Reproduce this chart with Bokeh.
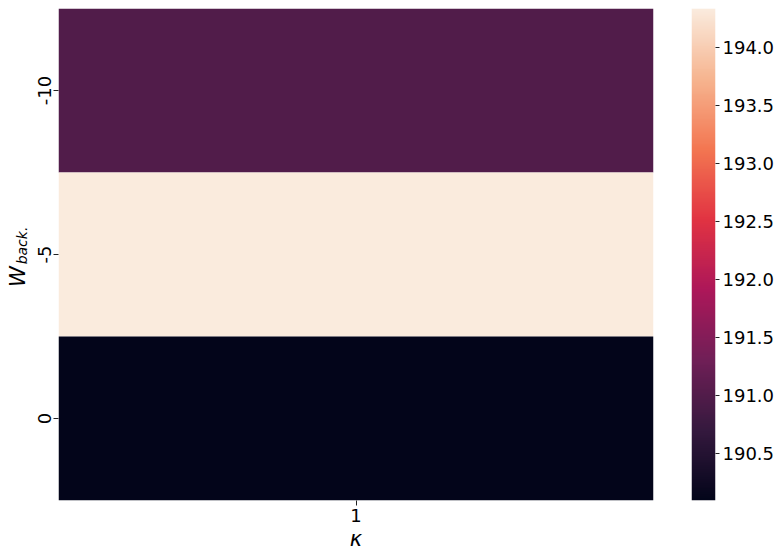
import math
import numpy as np
from bokeh.plotting import figure
from bokeh.layouts import row
from bokeh.models import (LinearColorMapper, FixedTicker, ColumnDataSource,
                          Range1d, PrintfTickFormatter)
from bokeh.core.properties import value
from bokeh.embed import file_html
from bokeh.resources import INLINE

# ---- data ----
kappa_labels = ["1"]
w_back_labels = ["-10", "-5", "0"]
cell_values = [191.0, 194.34, 190.09]
cbar_ticks = [190.5, 191.0, 191.5, 192.0, 192.5, 193.0, 193.5, 194.0]

# ---- rocket-like palette ----
anchors = [
    (0.0, (3, 5, 26)),
    (1/7, (0x35, 0x19, 0x3e)),
    (2/7, (0x70, 0x1f, 0x57)),
    (3/7, (0xad, 0x17, 0x59)),
    (4/7, (0xe1, 0x33, 0x42)),
    (5/7, (0xf3, 0x76, 0x51)),
    (6/7, (0xf6, 0xb4, 0x8f)),
    (1.0, (0xfa, 0xeb, 0xdd)),
]
palette = []
for i in range(256):
    t = i / 255
    for (t0, c0), (t1, c1) in zip(anchors[:-1], anchors[1:]):
        if t0 <= t <= t1:
            f = (t - t0) / (t1 - t0)
            c = tuple(int(round(a + (b - a) * f)) for a, b in zip(c0, c1))
            palette.append("#%02x%02x%02x" % c)
            break

FONT = "DejaVu Sans"
FS = "18px"
H = 559
FRAME_H = 492
TOP, BOTTOM = 8, 59

vmin, vmax = min(cell_values), max(cell_values)
mapper = LinearColorMapper(palette=palette, low=vmin, high=vmax)

def style_axis(ax):
    ax.axis_line_color = None
    ax.minor_tick_line_color = None
    ax.major_tick_in = 0
    ax.major_tick_line_color = "#222222"
    ax.major_label_text_font = FONT
    ax.major_label_text_font_size = FS
    ax.major_label_text_color = "#000000"

n_rows = len(w_back_labels)
y_range = Range1d(0, n_rows)

# ---- y-label panel (frame spans same vertical extent as heatmap) ----
LAB_W = 32
lab = figure(frame_width=LAB_W, frame_height=FRAME_H,
             x_range=Range1d(0, LAB_W), y_range=y_range,
             output_backend="svg", toolbar_location=None,
             x_axis_type=None, y_axis_type=None,
             min_border_left=0, min_border_right=0,
             min_border_top=TOP, min_border_bottom=BOTTOM)
lab.outline_line_color = None
lab.grid.visible = False
ppu = FRAME_H / n_rows  # pixels per row unit
def to_y(py):
    return (TOP + FRAME_H - py) / ppu
lab.text(x=[17], y=[to_y(276)], text=["W"], angle=math.pi / 2,
         text_font=value(FONT), text_font_style="italic", text_font_size="21px",
         text_align="center", text_baseline="middle", text_color="#000000")
lab.text(x=[21.5], y=[to_y(245)], text=["back."], angle=math.pi / 2,
         text_font=value(FONT), text_font_style="italic", text_font_size="14px",
         text_align="center", text_baseline="middle", text_color="#000000")

# ---- heatmap ----
ys = [n_rows - 1 - i + 0.5 for i in range(n_rows)]
xs = [0.5] * n_rows
src = ColumnDataSource(dict(x=xs, y=ys, v=cell_values))

p = figure(frame_width=595, frame_height=FRAME_H,
           x_range=Range1d(0, len(kappa_labels)), y_range=y_range,
           output_backend="svg", toolbar_location=None,
           min_border_left=58 - LAB_W, min_border_top=TOP, min_border_bottom=BOTTOM,
           min_border_right=38)
p.outline_line_color = None
p.grid.visible = False

p.rect(x="x", y="y", width=1, height=1, source=src,
       fill_color={"field": "v", "transform": mapper}, line_color=None)

p.xaxis.ticker = FixedTicker(ticks=[0.5])
p.xaxis.major_label_overrides = {0.5: kappa_labels[0]}
p.yaxis.ticker = FixedTicker(ticks=ys)
p.yaxis.major_label_overrides = {y: l for y, l in zip(ys, w_back_labels)}
p.yaxis.major_label_orientation = "vertical"
for ax in (p.xaxis[0], p.yaxis[0]):
    style_axis(ax)
    ax.major_tick_out = 5
    ax.major_label_standoff = 3

p.xaxis.axis_label = "\u03ba"
p.xaxis.axis_label_text_font = FONT
p.xaxis.axis_label_text_font_style = "italic"
p.xaxis.axis_label_text_font_size = "21px"
p.xaxis.axis_label_standoff = 2
p.xaxis.axis_label_text_color = "#000000"

# ---- colour bar ----
cbf = figure(frame_width=24, frame_height=FRAME_H,
             x_range=Range1d(0, 1), y_range=Range1d(vmin, vmax),
             output_backend="svg", toolbar_location=None,
             x_axis_type=None, y_axis_location="right",
             min_border_left=0, min_border_top=TOP, min_border_bottom=BOTTOM,
             min_border_right=66)
cbf.outline_line_color = None
cbf.grid.visible = False
grad = np.linspace(vmin, vmax, 512).reshape(512, 1)
cbf.image(image=[grad], x=0, y=vmin, dw=1, dh=vmax - vmin, color_mapper=mapper)
cbf.yaxis.ticker = FixedTicker(ticks=cbar_ticks)
cbf.yaxis.formatter = PrintfTickFormatter(format="%.1f")
style_axis(cbf.yaxis[0])
cbf.yaxis.major_tick_out = 4
cbf.yaxis.major_label_standoff = 3

layout = row(lab, p, cbf, spacing=0)
open("out.html", "w").write(file_html(layout, INLINE))
